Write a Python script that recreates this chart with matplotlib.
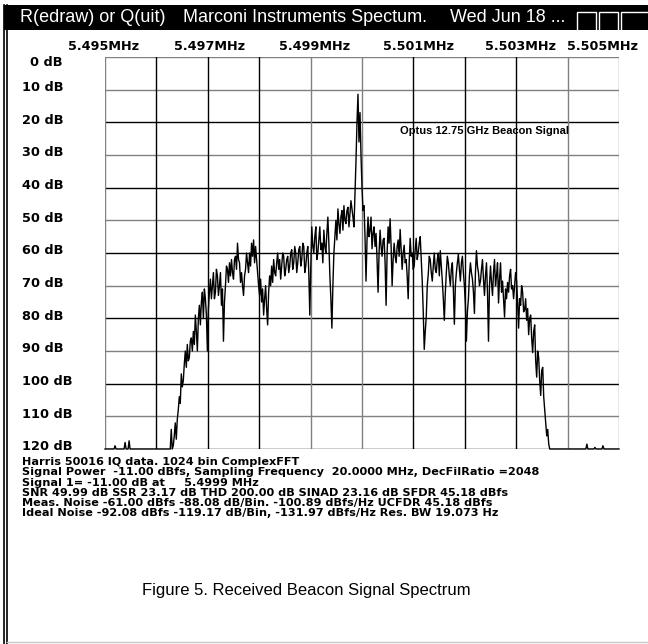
import numpy as np
import matplotlib
matplotlib.use("Agg")
import matplotlib.pyplot as plt
from matplotlib.patches import Rectangle
from matplotlib.lines import Line2D

# spectrum trace, level below full scale in dB, one value per FFT bin
floor_low = [
    120, 120, 120, 120, 120, 120, 120, 120, 120, 120,
    119, 120, 120, 120, 120, 120, 120, 120, 120, 120,
    118, 120, 120, 120, 117.5, 120, 120, 120, 120, 120,
    120, 120, 120, 120, 120, 120, 120, 120, 120, 120,
    120, 120, 120, 120, 120, 120, 120, 120, 120, 120,
    120, 120, 120, 120, 120, 120, 120, 120, 120, 120,
    120, 120, 120, 120, 120, 120,
]
band = [
    114, 120, 119, 116, 112, 117, 111, 108, 104, 106,
    97, 101, 99, 94, 90, 95, 88, 93, 92, 87,
    86, 90, 84, 88, 79, 84, 90, 80, 76, 82,
    75, 72, 80, 71, 74, 79, 90, 77, 72, 68,
    74, 70, 66, 74, 72, 65, 67, 73, 70, 66,
    76, 71, 87, 75, 70, 64, 65, 69, 63, 67,
    62, 66, 68, 62, 61, 65, 57, 62, 63, 69,
    66, 70, 73, 67, 65, 60, 63, 66, 60, 64,
    57, 61, 56, 63, 58, 62, 66, 70, 73, 68,
    75, 71, 79, 74, 70, 77, 82, 72, 67, 70,
    64, 69, 62, 66, 67, 63, 60, 65, 62, 68,
    64, 60, 61, 67, 65, 62, 61, 66, 64, 60,
    59, 65, 63, 58, 60, 66, 63, 59, 58, 64,
    62, 57, 58, 66, 64, 60, 58, 66, 79, 64,
    52, 58, 60, 55, 52, 62, 60, 56, 52, 59,
    57, 63, 53, 58, 60, 54, 49, 57, 67, 74,
    83, 70, 60, 55, 50, 56, 46.5, 51, 54, 49,
    47, 53, 45.5, 50, 51, 47, 46, 52, 48, 44,
    46.5, 49, 52, 42, 32, 20, 11.4, 26, 17, 30,
    40, 47, 45.5, 55, 68.6, 56, 49, 55, 53, 49,
    58.7, 54, 52, 58, 54, 62, 72, 60, 53, 58,
    61, 56, 55.5, 63, 76, 60, 52, 57, 49.5, 58,
    70, 62, 57, 61, 63, 58, 56, 61, 52.8, 59,
    65, 60, 57.6, 63, 62, 67, 74, 63, 55.5, 61,
    60, 65, 64, 59, 55.5, 62, 60, 57, 55, 62,
    68.6, 78, 89.5, 84, 79.6, 70, 66.5, 61, 62, 66,
    68.6, 64, 60, 65, 66, 62, 60, 67, 59.3, 64,
    68.6, 74, 80.6, 72, 66, 61, 63, 67, 70, 65,
    63, 71, 81.8, 70, 66, 63, 60.4, 65, 68.6, 63,
    61, 66, 70, 76, 87, 78, 74, 67, 63, 66,
    68, 72, 78.5, 66, 59.3, 64, 66, 70, 68.6, 65,
    62, 68, 73, 67, 63, 72, 87, 70, 64, 69,
    73, 66, 62, 70, 67, 63, 75.3, 68, 63, 72,
    68.6, 74, 79.6, 71, 74, 69, 72, 67, 65, 71,
    70, 74, 70, 66, 68.6, 75, 83, 74, 76, 70,
    72, 78, 77.4, 74, 80.6, 77, 85, 80, 79, 86,
    90.5, 84, 82, 93, 98, 90, 92, 99, 103.6, 96,
    95, 104, 108, 112, 116, 114, 118.5, 120,
]
floor_high = [
    120, 120, 120, 120, 120, 120, 120, 120, 120, 120,
    120, 120, 120, 120, 120, 120, 120, 120, 120, 120,
    120, 120, 120, 120, 120, 120, 120, 120, 120, 120,
    120, 120, 120, 120, 120, 120, 118.5, 120, 120, 120,
    120, 120, 120, 120, 119.5, 120, 120, 120, 120, 120,
    120, 120, 119, 120, 120, 120, 120, 120, 120, 120,
    120, 120, 120, 120, 120, 120, 120, 120, 120,
]
levels_db = floor_low + band + floor_high
freq_mhz = np.linspace(5.495, 5.505, len(levels_db))

db_ticks = [0, 10, 20, 30, 40, 50, 60, 70, 80, 90, 100, 110, 120]
freq_grid = [5.495 + 0.001 * k for k in range(11)]
freq_labels = ["5.495MHz", "5.497MHz", "5.499MHz", "5.501MHz", "5.503MHz", "5.505MHz"]

title_parts = ["R(edraw) or Q(uit)", "Marconi Instruments Spectum.", "Wed Jun 18 ..."]
info_lines = [
    "Harris 50016 IQ data. 1024 bin ComplexFFT",
    "Signal Power  -11.00 dBfs, Sampling Frequency  20.0000 MHz, DecFilRatio =2048",
    "Signal 1= -11.00 dB at     5.4999 MHz",
    "SNR 49.99 dB SSR 23.17 dB THD 200.00 dB SINAD 23.16 dB SFDR 45.18 dBfs",
    "Meas. Noise -61.00 dBfs -88.08 dB/Bin. -100.89 dBfs/Hz UCFDR 45.18 dBfs",
    "Ideal Noise -92.08 dBfs -119.17 dB/Bin, -131.97 dBfs/Hz Res. BW 19.073 Hz",
]
marker_text = "Optus 12.75 GHz Beacon Signal"
caption = "Figure 5. Received Beacon Signal Spectrum"

W, H = 648, 644


def fx(x):
    return x / W


def fy(y):
    return 1 - y / H


fig = plt.figure(figsize=(W / 100, H / 100), dpi=100)
fig.patch.set_facecolor("white")

# window frame: title bar, caption buttons, double left border
fig.patches.append(Rectangle((fx(4), fy(30)), fx(648) - fx(4), fy(5) - fy(30),
                             transform=fig.transFigure, facecolor="black", edgecolor="none"))
for bx, bw in [(577, 19), (599, 19), (621, 30)]:
    fig.patches.append(Rectangle((fx(bx), fy(31)), fx(bw), fy(12) - fy(31),
                                 transform=fig.transFigure, facecolor="none",
                                 edgecolor="white", linewidth=1.0))
for lx in (3.5, 7):
    fig.lines.append(Line2D([fx(lx), fx(lx)], [fy(5), fy(644)], transform=fig.transFigure,
                            color="black", linewidth=1.2))
fig.lines.append(Line2D([fx(7), fx(648)], [fy(641.5), fy(641.5)], transform=fig.transFigure,
                        color="#c8c8c8", linewidth=1.0))

for txt, tx in zip(title_parts, [20, 183, 450]):
    fig.text(fx(tx), fy(18), txt, color="white", fontsize=13, family="Liberation Sans",
             ha="left", va="center")

# plot area
left, right, top, bottom = 105, 619, 57, 449
ax = fig.add_axes([fx(left), fy(bottom), fx(right) - fx(left), fy(top) - fy(bottom)])
ax.set_xlim(5.495, 5.505)
ax.set_ylim(120, 0)
ax.set_xticks([])
ax.set_yticks([])
for s in ax.spines.values():
    s.set_visible(False)

h_colors = ["#808080" if (d // 10) % 2 else "black" for d in db_ticks]
h_colors[0] = "#808080"
for d, c in zip(db_ticks, h_colors):
    ax.axhline(d, color=c, linewidth=1.0, zorder=1)
v_colors = ["#808080", "black", "black", "black", "#808080", "#808080",
            "black", "black", "black", "#808080", "#808080"]
for f, c in zip(freq_grid, v_colors):
    ax.axvline(f, color=c, linewidth=1.0, zorder=1)

ax.plot(freq_mhz, levels_db, color="black", linewidth=1.0, zorder=3, clip_on=False)

fig.text(fx(400), fy(131), marker_text, fontsize=8, family="Liberation Sans",
         fontweight="bold", ha="left", va="center")

# axis labels drawn in the instrument's own positions
for d in db_ticks:
    y = top + (bottom - top) * d / 120
    if d == 0:
        fig.text(fx(30), fy(62), "0 dB", fontsize=9.3, fontweight="bold",
                 family="DejaVu Sans", ha="left", va="center")
    else:
        fig.text(fx(22), fy(y - 2), f"{d} dB", fontsize=9.3, fontweight="bold",
                 family="DejaVu Sans", ha="left", va="center")

label_x = [104, 210, 315, 418, 520, 603]
for lx, lab in zip(label_x, freq_labels):
    fig.text(fx(lx), fy(47), lab, fontsize=9.2, fontweight="bold",
             family="DejaVu Sans", ha="center", va="center")

for k, line in enumerate(info_lines):
    fig.text(fx(22), fy(462 + 10.3 * k), line, fontsize=8.1, fontweight="bold",
             family="DejaVu Sans", ha="left", va="center")

fig.text(fx(306), fy(590), caption, fontsize=12, family="Liberation Sans",
         ha="center", va="center")

fig.savefig("out.png", dpi=100)
